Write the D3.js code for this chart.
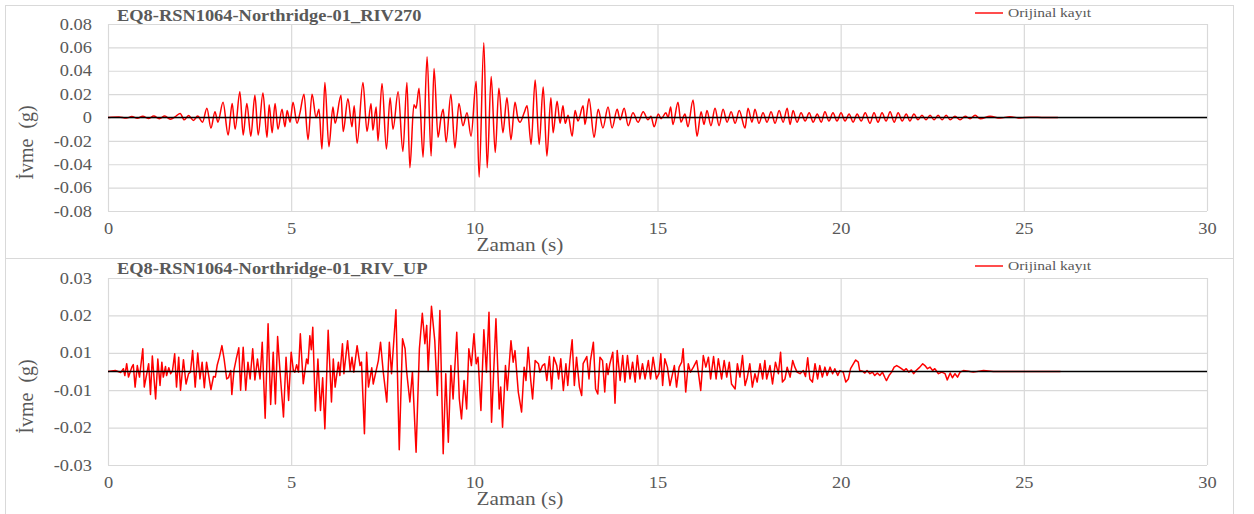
<!DOCTYPE html>
<html>
<head>
<meta charset="utf-8">
<script src="https://cdn.jsdelivr.net/npm/d3@7"></script>
<style>
  body { margin: 0; background: #fff; }
  text { font-family: "Liberation Serif", "Times New Roman", "DejaVu Serif", serif; }
</style>
</head>
<body>
<svg id="chart" width="1254" height="514"></svg>
<script>
// ---- Data: Northridge-01 (RSN1064), station RIV, two components ----
const xTicks = [0, 5, 10, 15, 20, 25, 30];

// Horizontal component RIV270 : time (s) and acceleration (g)
const timeRIV270 = [
  0, 0.3, 0.5, 0.65, 0.8, 0.95, 1.1, 1.25, 1.4, 1.55, 1.7, 1.85, 1.97, 2.08, 2.2, 2.33, 2.45, 2.58,
  2.70, 2.81, 2.92, 3.00, 3.14, 3.28, 3.39, 3.47, 3.60, 3.69, 3.79, 3.90, 4.01, 4.10, 4.23, 4.34,
  4.40, 4.48, 4.56, 4.64, 4.75, 4.83, 4.89, 4.97, 5.05, 5.16, 5.24, 5.35, 5.46, 5.57, 5.68, 5.76,
  5.84, 5.92, 6.03, 6.14, 6.20, 6.36, 6.42, 6.55, 6.66, 6.72, 6.80, 6.96, 7.07, 7.18, 7.23, 7.32,
  7.37, 7.48, 7.60, 7.70, 7.78, 7.92, 8.05, 8.16, 8.24, 8.35, 8.41, 8.49, 8.60, 8.71, 8.82, 8.90,
  9.01, 9.09, 9.15, 9.23, 9.36, 9.47, 9.58, 9.69, 9.80, 9.91, 10.05, 10.13, 10.26, 10.35, 10.46,
  10.57, 10.67, 10.78, 10.89, 11.00, 11.11, 11.19, 11.25, 11.36, 11.44, 11.55, 11.66, 11.77, 11.88,
  11.98, 12.09, 12.15, 12.26, 12.34, 12.42, 12.48, 12.56, 12.67, 12.75, 12.83, 12.97, 13.02, 13.13,
  13.27, 13.38, 13.51, 13.65, 13.76, 13.90, 13.98, 14.09, 14.20, 14.33, 14.47, 14.61, 14.74, 14.82,
  14.91, 15.02, 15.10, 15.23, 15.29, 15.36, 15.42, 15.56, 15.64, 15.75, 15.83, 15.97, 16.08, 16.19,
  16.27, 16.35, 16.46, 16.57, 16.68, 16.79, 16.90, 17.01, 17.12, 17.23, 17.39, 17.47, 17.58, 17.66,
  17.77, 17.88, 17.99, 18.10, 18.21, 18.32, 18.43, 18.54, 18.62, 18.70, 18.81, 18.92, 19.03, 19.14,
  19.25, 19.36, 19.47, 19.57, 19.68, 19.79, 19.90, 20.01, 20.12, 20.23, 20.34, 20.45, 20.56, 20.67,
  20.80, 20.91, 21.02, 21.13, 21.24, 21.35, 21.46, 21.57, 21.68, 21.79, 21.89, 22.00, 22.11, 22.22,
  22.33, 22.44, 22.55, 22.66, 22.77, 22.88, 22.99, 23.12, 23.26, 23.40, 23.53, 23.67, 23.81, 24.08,
  24.35, 24.62, 24.90, 25.17, 25.58, 25.93
];
const accRIV270 = [
  0, 0.0004, -0.0005, 0.0008, -0.0006, 0.001, -0.0008, 0.0012, -0.001, 0.0012, -0.0014, 0.001, 0.0035, -0.002, 0.0018, -0.0025, 0.0012, -0.004,
  0.008, -0.009, 0.005, -0.004, 0.013, -0.015, 0.012, -0.010, 0.022, -0.015, 0.012, -0.016, 0.019, -0.015, 0.021, -0.017,
  0.011, -0.013, 0.012, -0.010, 0.007, -0.008, 0.006, -0.004, 0.013, -0.005, 0.004, 0.020, -0.019, 0.020, 0.000, 0.007,
  -0.027, 0.030, -0.025, 0.009, -0.005, 0.019, -0.012, 0.016, -0.008, 0.010, -0.022, 0.030, -0.012, 0.012, -0.011, 0.009,
  -0.020, 0.029, -0.027, 0.017, -0.010, 0.022, -0.029, 0.030, -0.043, 0.011, 0.008, 0.025, -0.034, 0.052, -0.033, 0.042,
  -0.017, 0.000, 0.007, -0.021, 0.020, -0.026, 0.012, -0.007, 0.004, -0.016, 0.031, -0.051, 0.064, -0.043, 0.035,
  -0.030, 0.025, -0.013, 0.017, -0.019, 0.013, -0.001, -0.004, 0.004, 0.010, -0.023, 0.032, -0.023, 0.026,
  -0.033, 0.017, -0.013, 0.014, -0.005, 0.010, -0.005, 0.002, -0.016, 0.006, -0.003, 0.010, -0.006, 0.016,
  -0.017, 0.007, -0.009, 0.009, -0.009, 0.007, -0.002, 0.008, -0.007, 0.004, -0.004, 0.005, -0.002, 0.001,
  -0.008, 0.003, -0.001, 0.004, 0.000, 0.009, -0.006, 0.013, -0.004, 0.003, -0.008, 0.015, -0.016, 0.005,
  -0.006, 0.006, -0.007, 0.008, -0.007, 0.007, -0.004, 0.005, -0.005, 0.006, -0.009, 0.008, -0.004, 0.007,
  -0.005, 0.004, -0.004, 0.005, -0.005, 0.006, -0.004, 0.008, -0.006, 0.006, -0.004, 0.004, -0.003, 0.004,
  -0.004, 0.003, -0.004, 0.005, -0.003, 0.004, -0.003, 0.004, -0.003, 0.003, -0.004, 0.003, -0.003, 0.004,
  -0.005, 0.004, -0.004, 0.004, -0.003, 0.005, -0.004, 0.004, -0.003, 0.003, -0.003, 0.003, -0.002, 0.002,
  -0.002, 0.002, -0.002, 0.002, -0.002, 0.002, -0.002, 0.001, -0.002, 0.001, -0.001, 0.002, -0.001, 0.001,
  -0.0005, 0.0007, -0.0005, 0.0003, 0, 0
];

// Vertical component RIV_UP : time (s) and acceleration (g)
const timeRIVUP = [
  0, 0.2, 0.35, 0.42, 0.46, 0.51, 0.56, 0.65, 0.69, 0.74, 0.80, 0.86, 0.95, 0.99, 1.11, 1.16, 1.21,
  1.30, 1.36, 1.42, 1.47, 1.51, 1.57, 1.60, 1.66, 1.71, 1.76, 1.82, 1.87, 1.93, 1.98, 2.06, 2.13,
  2.20, 2.25, 2.31, 2.38, 2.45, 2.51, 2.57, 2.63, 2.69, 2.81, 2.88, 2.93, 2.98, 3.04, 3.11, 3.17,
  3.24, 3.29, 3.35, 3.38, 3.44, 3.50, 3.57, 3.62, 3.69, 3.76, 3.82, 3.88, 3.95, 4.01, 4.08, 4.15,
  4.21, 4.29, 4.37, 4.44, 4.51, 4.57, 4.63, 4.70, 4.79, 4.86, 4.93, 5.00, 5.06, 5.10, 5.15, 5.20,
  5.25, 5.33, 5.42, 5.46, 5.51, 5.55, 5.59, 5.66, 5.73, 5.80, 5.86, 5.92, 6.01, 6.10, 6.15, 6.20,
  6.29, 6.33, 6.40, 6.44, 6.54, 6.61, 6.66, 6.71, 6.80, 6.88, 6.92, 7.00, 7.06, 7.11, 7.20, 7.24,
  7.32, 7.38, 7.44, 7.51, 7.61, 7.68, 7.74, 7.86, 7.95, 8.04, 8.11, 8.15, 8.24, 8.31, 8.41, 8.50,
  8.58, 8.65, 8.70, 8.74, 8.83, 8.92, 8.99, 9.06, 9.15, 9.22, 9.29, 9.36, 9.42, 9.52, 9.59, 9.65,
  9.72, 9.79, 9.85, 9.92, 9.99, 10.05, 10.10, 10.18, 10.26, 10.33, 10.40, 10.47, 10.59, 10.68,
  10.72, 10.77, 10.85, 10.90, 11.00, 11.06, 11.11, 11.20, 11.29, 11.36, 11.41, 11.47, 11.54, 11.59,
  11.66, 11.75, 11.79, 11.86, 11.92, 11.98, 12.05, 12.11, 12.17, 12.25, 12.30, 12.36, 12.43, 12.50,
  12.55, 12.61, 12.67, 12.73, 12.79, 12.87, 12.93, 12.97, 13.07, 13.13, 13.17, 13.25, 13.31, 13.37,
  13.43, 13.50, 13.56, 13.61, 13.65, 13.70, 13.78, 13.84, 13.90, 13.98, 14.05, 14.11, 14.18, 14.25,
  14.32, 14.39, 14.45, 14.52, 14.59, 14.66, 14.75, 14.81, 14.88, 14.97, 15.04, 15.09, 15.14, 15.20,
  15.27, 15.34, 15.40, 15.46, 15.52, 15.59, 15.66, 15.70, 15.77, 15.84, 15.90, 15.98, 16.07, 16.12,
  16.18, 16.25, 16.32, 16.39, 16.45, 16.53, 16.60, 16.66, 16.75, 16.82, 16.89, 16.96, 17.02, 17.12,
  17.18, 17.25, 17.32, 17.39, 17.45, 17.52, 17.59, 17.66, 17.72, 17.80, 17.87, 17.93, 17.98, 18.07,
  18.14, 18.22, 18.30, 18.36, 18.41, 18.48, 18.54, 18.62, 18.69, 18.75, 18.81, 18.89, 18.98, 19.04,
  19.10, 19.16, 19.23, 19.30, 19.37, 19.43, 19.50, 19.57, 19.63, 19.71, 19.78, 19.84, 19.92, 19.98,
  20.07, 20.14, 20.21, 20.27, 20.35, 20.41, 20.48, 20.52, 20.60, 20.66, 20.72, 20.80, 20.87, 20.93,
  21.00, 21.07, 21.14, 21.21, 21.25, 21.32, 21.39, 21.46, 21.53, 21.60, 21.66, 21.73, 21.79, 21.86,
  21.93, 21.99, 22.06, 22.16, 22.24, 22.30, 22.37, 22.44, 22.51, 22.57, 22.67, 22.76, 22.85, 22.91,
  22.99, 23.05, 23.12, 23.19, 23.26, 23.35, 23.49, 23.62, 23.90, 24.17, 24.53, 26.0
];
const accRIVUP = [
  0, 0.0003, -0.0003, 0.0009, -0.0013, 0.0025, -0.0018, 0.0014, 0.0022, -0.005, 0.0019, -0.0018, 0.0073, -0.005, 0.0025, -0.0074, 0.005,
  -0.0088, 0.004, -0.0045, 0.003, -0.0018, 0.0016, -0.0013, 0.0012, -0.0007, 0.0002, 0.0057, -0.005, 0.0046, -0.006, 0.0038, -0.004,
  -0.0007, -0.0002, 0.0067, -0.005, 0.0059, -0.0024, 0.003, -0.0052, 0.003, -0.0058, -0.0016, -0.0018, 0.002, 0.0046, 0.0083, 0.004,
  -0.0024, -0.002, 0.0003, -0.0074, 0.0005, 0.004, 0.0076, -0.006, 0.0078, -0.006, 0.003, -0.0024, 0.0073, -0.0027, 0.004, -0.0024,
  0.0094, -0.015, 0.0153, -0.0106, 0.0062, -0.0104, 0.0112, -0.0007, -0.0146, 0.0046, -0.0093, 0.0062, 0.0003, -0.0002, 0.0022, -0.0002,
  0.0121, -0.0039, 0.004, 0.0025, 0.0115, 0.007, 0.0142, -0.0127, 0.004, -0.0125, -0.002, -0.0184, 0.0132, -0.0098, 0.004, -0.005,
  0.003, -0.0013, 0.0089, -0.0007, 0.0099, 0.0003, 0.0046, -0.0002, 0.0083, 0.0019, 0.003, -0.020, 0.0062, -0.005, 0.0012, -0.004,
  0.0003, 0.0035, 0.0094, 0.0003, -0.0098, 0.0094, -0.0007, 0.0198, -0.0251, 0.0105, 0.0073, 0.0003, -0.0098, -0.0002, -0.0259, 0.0073,
  0.0187, 0.0089, 0.0148, 0.0003, 0.0209, 0.0099, -0.0077, 0.0196, -0.0264, -0.0007, -0.0227, 0.0019, -0.0088, 0.0126, -0.0088, -0.0152,
  -0.0029, -0.012, 0.0073, 0.0019, 0.0121, 0.0025, 0.0046, -0.0125, 0.0134, -0.0002, 0.019, -0.0163, 0.0169, -0.012,
  -0.005, -0.0179, 0.0019, -0.006, 0.0099, 0.003, 0.0067, -0.0066, -0.013, 0.0014, -0.0029, 0.0078, -0.0029, -0.0088,
  0.0035, 0.0025, -0.0002, 0.0019, 0.0025, -0.0029, 0.0048, -0.0056, 0.0046, 0.0019, -0.0024, 0.0041, -0.0061, 0.0025,
  -0.0045, 0.0037, 0.0102, -0.0045, 0.0046, -0.005, -0.0077, 0.0025, 0.0048, -0.0024, 0.0035, 0.0094, -0.0056, -0.0072,
  0.0046, 0.0035, -0.0066, 0.0025, -0.001, 0.0025, 0.0062, -0.0102, 0.0067, -0.0029, 0.0051, -0.0034, 0.0051, -0.0024,
  0.003, -0.0034, 0.0051, -0.0024, 0.0025, -0.0024, 0.0035, -0.0024, 0.0046, -0.0024, -0.0007, 0.0057, -0.0045, 0.0041,
  0.0014, -0.0045, -0.0013, 0.0019, -0.005, 0.0014, 0.003, 0.0073, -0.0066, 0.0025, -0.0002, 0.0014, 0.0035, -0.0007,
  -0.0061, 0.0051, 0.0014, 0.0046, -0.0024, 0.0048, -0.0024, 0.0041, -0.0024, 0.0035, -0.0018, 0.003, -0.004, -0.0056,
  0.0025, -0.0018, 0.0051, -0.0045, -0.002, 0.0025, -0.005, -0.0007, -0.0034, 0.0025, -0.0024, 0.0035, -0.0024, 0.0019,
  -0.004, 0.003, -0.0007, 0.0062, -0.0034, -0.0024, 0.0014, -0.0018, 0.0035, 0.0014, -0.0002, -0.0007, 0.0003, -0.0016,
  0.0044, -0.0024, -0.0034, 0.0025, -0.0024, 0.0019, -0.0018, 0.0014, -0.0013, 0.0014, -0.0007, 0.0009, -0.0013, 0.0003,
  -0.0002, -0.0034, -0.0024, 0.0009, 0.0025, 0.0037, 0.003, 0.0003, 0.0001, -0.0005, 0.0003, -0.0007, -0.0002, -0.0013,
  -0.0005, -0.0013, -0.0002, -0.002, -0.0029, -0.0013, -0.0002, 0.0014, 0.0019, 0.0014, 0.0009, 0.0003, 0.0009, -0.0002,
  0.0005, -0.0007, 0.0003, 0.0014, 0.0025, 0.0019, 0.0009, 0.0014, 0.0003, 0.0009, -0.0007, -0.0002, -0.0007, -0.0027,
  -0.0005, -0.002, -0.0007, -0.0018, -0.0002, 0.0003, 0.0001, -0.0002, 0.0003, 0, 0, 0
];

// Axis ticks for each component (the vertical component uses a 0.012 g step, shown to 2 decimals)
const yTicksRIV270 = [-0.08, -0.06, -0.04, -0.02, 0, 0.02, 0.04, 0.06, 0.08];
const yLabelsRIV270 = ["-0.08", "-0.06", "-0.04", "-0.02", "0", "0.02", "0.04", "0.06", "0.08"];
const yTicksRIVUP = [-0.03, -0.018, -0.006, 0.006, 0.018, 0.03];
const yLabelsRIVUP = ["-0.03", "-0.02", "-0.01", "0.01", "0.02", "0.03"];

const titles = ["EQ8-RSN1064-Northridge-01_RIV270", "EQ8-RSN1064-Northridge-01_RIV_UP"];
const legendLabel = "Orijinal kayıt";
const xTitle = "Zaman (s)";
const yTitle = "İvme  (g)";

// ---- Drawing ----
const svg = d3.select("#chart");
const textColor = "#595959";
const gridColor = "#d9d9d9";
const serif = '"Liberation Serif", "Times New Roman", "DejaVu Serif", serif';
const stretch = 1.15;   // wide text rendering used throughout the figure

const x = d3.scaleLinear().domain([0, 30]).range([108, 1207]);

const panels = [
  { frameTop: 5, frameBottom: 258, plotTop: 24, plotBottom: 211, domain: [-0.08, 0.08],
    ticks: yTicksRIV270, labels: yLabelsRIV270, time: timeRIV270, acc: accRIV270,
    title: titles[0], curve: d3.curveMonotoneX },
  { frameTop: 258, frameBottom: 520, plotTop: 278, plotBottom: 465, domain: [-0.03, 0.03],
    ticks: yTicksRIVUP, labels: yLabelsRIVUP, time: timeRIVUP, acc: accRIVUP,
    title: titles[1], curve: d3.curveLinear }
];

function wideText(g, tx, ty, str, size, anchor, weight) {
  return g.append("text")
    .attr("transform", `translate(${tx},${ty}) scale(${stretch},1)`)
    .attr("text-anchor", anchor || "start")
    .attr("fill", textColor)
    .style("font-family", serif)
    .style("font-size", size + "px")
    .style("font-weight", weight || "normal")
    .text(str);
}

panels.forEach(p => {
  const g = svg.append("g");
  const y = d3.scaleLinear().domain(p.domain).range([p.plotBottom, p.plotTop]);

  // chart frame
  g.append("rect")
    .attr("x", 5.5).attr("y", p.frameTop + 0.5)
    .attr("width", 1228).attr("height", p.frameBottom - p.frameTop)
    .attr("fill", "#fff").attr("stroke", gridColor).attr("stroke-width", 1);

  // horizontal gridlines + y tick labels
  const yAxis = d3.axisLeft(y).tickValues(p.ticks)
    .tickFormat((d, i) => p.labels[i])
    .tickSize(-(x.range()[1] - x.range()[0])).tickPadding(0);
  const ya = g.append("g").attr("transform", `translate(${x.range()[0]},0)`).call(yAxis);
  ya.select(".domain").remove();
  ya.selectAll(".tick line").attr("stroke", gridColor).attr("stroke-width", 1.2);
  ya.selectAll(".tick text")
    .attr("x", -16 / stretch)
    .attr("transform", `scale(${stretch},1)`)
    .attr("fill", textColor).style("font-size", "16px").style("font-family", serif);

  // vertical gridlines + x tick labels
  const xAxis = d3.axisBottom(x).tickValues(xTicks).tickFormat(d3.format("d"))
    .tickSize(-(p.plotBottom - p.plotTop)).tickPadding(12);
  const xa = g.append("g").attr("transform", `translate(0,${p.plotBottom})`).call(xAxis);
  xa.select(".domain").remove();
  xa.selectAll(".tick line").attr("stroke", gridColor).attr("stroke-width", 1.2);
  xa.selectAll(".tick text")
    .attr("transform", `scale(${stretch},1)`)
    .attr("fill", textColor).style("font-size", "16px").style("font-family", serif);

  // acceleration trace
  const pts = p.time.map((t, i) => [t, p.acc[i]]);
  g.append("path")
    .datum(pts)
    .attr("fill", "none")
    .attr("stroke", "#ff0000")
    .attr("stroke-width", 1.5)
    .attr("stroke-linejoin", "round")
    .attr("d", d3.line().x(d => x(d[0])).y(d => y(d[1])).curve(p.curve));

  // zero axis line
  g.append("line")
    .attr("x1", x(0)).attr("x2", x(30))
    .attr("y1", y(0)).attr("y2", y(0))
    .attr("stroke", "#000").attr("stroke-width", 1.6);

  // title
  wideText(g, 117, p.frameTop + 16, p.title, 16, "start", "bold");

  // legend
  g.append("line")
    .attr("x1", 975).attr("x2", 1003)
    .attr("y1", p.frameTop + 8).attr("y2", p.frameTop + 8)
    .attr("stroke", "#ff0000").attr("stroke-width", 1.4);
  wideText(g, 1008, p.frameTop + 12, legendLabel, 13.5, "start");

  // axis titles
  wideText(g, 520, p.plotBottom + 40, xTitle, 18.5, "middle");
  const cy = (p.plotTop + p.plotBottom) / 2 + 25;
  g.append("text")
    .attr("transform", `translate(33,${cy}) rotate(-90)`)
    .attr("text-anchor", "middle")
    .attr("fill", textColor)
    .style("font-family", serif)
    .style("font-size", "20px")
    .style("white-space", "pre")
    .text(yTitle);
});
</script>
</body>
</html>
